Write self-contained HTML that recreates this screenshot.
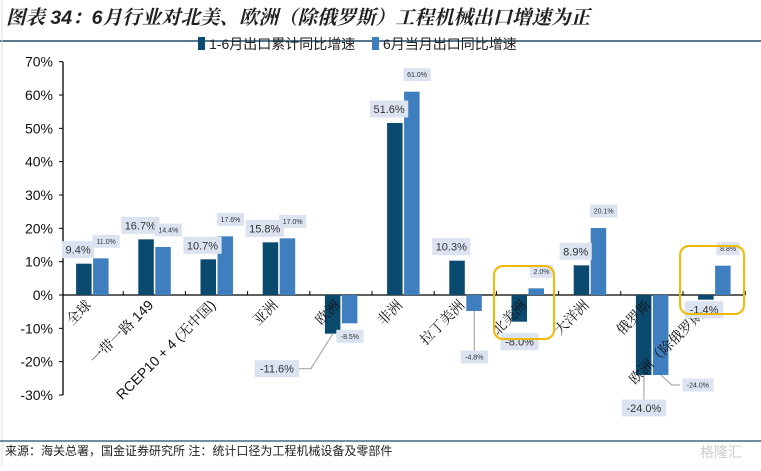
<!DOCTYPE html>
<html><head><meta charset="utf-8"><style>
body{margin:0;background:#fff;width:761px;height:466px;overflow:hidden;font-family:"Liberation Sans","Noto Sans CJK SC",sans-serif;}
</style></head><body>
<svg width="761" height="466" xmlns="http://www.w3.org/2000/svg">
<text x="6" y="24" font-size="19.5" font-weight="bold" font-style="italic" fill="#222" font-family="Liberation Sans, Noto Serif CJK SC, serif">图表 34：6月行业对北美、欧洲（除俄罗斯）工程机械出口增速为正</text>
<line x1="0" y1="41" x2="761" y2="41" stroke="#1f4e6e" stroke-width="1.5"/>
<line x1="2" y1="0" x2="2" y2="466" stroke="#ddd" stroke-width="1"/>
<g>
<g><rect x="198" y="37" width="7" height="13" fill="#0b4a6f"/><text x="209" y="49" font-size="14" fill="#222">1-6月出口累计同比增速</text></g>
<g><rect x="372" y="37" width="7" height="13" fill="#3f7fbf"/><text x="383" y="49" font-size="14" fill="#222">6月当月出口同比增速</text></g>
</g>
<g id="axis"></g>
<g id="bars"></g>
<g id="cats"></g>
<g id="labels"></g>
<rect x="494" y="266" width="60" height="73" rx="9" fill="none" stroke="#f5b800" stroke-width="2"/>
<rect x="680" y="246" width="64" height="68" rx="9" fill="none" stroke="#f5b800" stroke-width="2"/>
<line x1="0" y1="441" x2="761" y2="441" stroke="#1f4e6e" stroke-width="1.2"/>
<text x="5" y="455" font-size="12" fill="#222">来源：海关总署，国金证券研究所  注：统计口径为工程机械设备及零部件</text>
<text x="700" y="457" font-size="14" fill="#ccc">格隆汇</text>
</svg>
<script>
const categories=["全球","一带一路 149","RCEP10 + 4 (无中国)","亚洲","欧洲","非洲","拉丁美洲","北美洲","大洋洲","俄罗斯","欧洲（除俄罗斯）"];
const cumValues=[9.4,16.7,10.7,15.8,-11.6,51.6,10.3,-8.0,8.9,-24.0,-1.4];
const juneValues=[11.0,14.4,17.6,17.0,-8.5,61.0,-4.8,2.0,20.1,-24.0,8.8];
const yTicks=[70,60,50,40,30,20,10,0,-10,-20,-30];
const NS="http://www.w3.org/2000/svg";
const y0=295,pxPer=3.333;
const yS=v=>y0-v*pxPer;
const left=61,band=62.2;
const xC=i=>left+band*(i+0.5);
function mk(t,a,p){const e=document.createElementNS(NS,t);for(const k in a)e.setAttribute(k,a[k]);p.appendChild(e);return e;}
const ax=document.getElementById('axis'),bg=document.getElementById('bars'),lg=document.getElementById('labels'),cg=document.getElementById('cats');
let l=mk('line',{x1:63,y1:yS(70),x2:63,y2:yS(-30),stroke:'#000','stroke-width':1.3},ax);


l=mk('line',{x1:63,y1:y0,x2:left+band*categories.length,y2:y0,stroke:'#000','stroke-width':1.3},ax);


for(let i=1;i<=categories.length;i++)mk('line',{x1:left+band*i,y1:y0-4,x2:left+band*i,y2:y0,stroke:'#000'},ax);
yTicks.forEach(v=>{
 mk('line',{x1:59,y1:yS(v),x2:63,y2:yS(v),stroke:'#000'},ax);
 const t=mk('text',{x:53,y:yS(v)+5,'font-size':14,'text-anchor':'end',fill:'#111'},ax);
 t.textContent=v+'%';
 
 
});
function box(txt,cx,cy,fs,p){
 const w=txt.length*fs*0.55+8,h=fs+6;
 mk('rect',{x:cx-w/2,y:cy-h/2,width:w,height:h,fill:'#dbe3f1'},p);
 const t=mk('text',{x:cx,y:cy+fs*0.36,'font-size':fs,'text-anchor':'middle',fill:'#333'},p);
 t.textContent=txt;return t;
}
categories.forEach((c,i)=>{
 const cx=xC(i);
 const a=cumValues[i],b=juneValues[i];
 let r=mk('rect',{x:cx-16,y:Math.min(yS(a),y0),width:15.5,height:Math.abs(a)*pxPer,fill:'#0b4a6f'},bg);
 
 
 r=mk('rect',{x:cx+1,y:Math.min(yS(b),y0),width:15.5,height:Math.abs(b)*pxPer,fill:'#3f7fbf'},bg);
 
 
 let ya=a>=0?yS(a)-14:yS(a)+12, yb=b>=0?yS(b)-17:yS(b)+12;
 let xa=cx-14,xb=cx+14;
 if(i===4){xa=cx-64;ya=yS(a)+35;mk('polyline',{points:`${cx-8},${yS(a)} ${cx-30},${ya} ${xa+18},${ya}`,fill:'none',stroke:'#aaa','stroke-width':1.2},lg);yb=yS(b)+13;xb=cx+9;}
 if(i===6){mk('line',{x1:cx+9,y1:yS(b),x2:cx+9,y2:yS(b)+40,stroke:'#aaa','stroke-width':1.2},lg);yb=yS(b)+46;xb=cx+9;}
 if(i===7){ya=yS(a)+20;xa=cx-8;}
 if(i===9){mk('line',{x1:cx-8,y1:yS(a),x2:cx-8,y2:yS(a)+26,stroke:'#aaa','stroke-width':1.2},lg);ya=yS(a)+33;xa=cx-8;
  mk('polyline',{points:`${cx+9},${yS(b)} ${cx+20},${yS(b)+10} ${cx+28},${yS(b)+10}`,fill:'none',stroke:'#aaa','stroke-width':1.2},lg);yb=yS(b)+10;xb=cx+46;}
 if(i===10){ya=yS(a)+10;xa=cx-10;}
 let t=box(a.toFixed(1)+'%',xa,ya,11,lg);
 
 
 t=box(b.toFixed(1)+'%',xb,yb,7,lg);
 
 
 const ct=mk('text',{x:cx,y:306,'font-size':14,'text-anchor':'end',fill:'#111',transform:`rotate(-45 ${cx} 306)`,'font-family':'Liberation Sans, Noto Serif CJK SC, serif'},cg);
 ct.textContent=c;
 
 
});
</script>
</body></html>
